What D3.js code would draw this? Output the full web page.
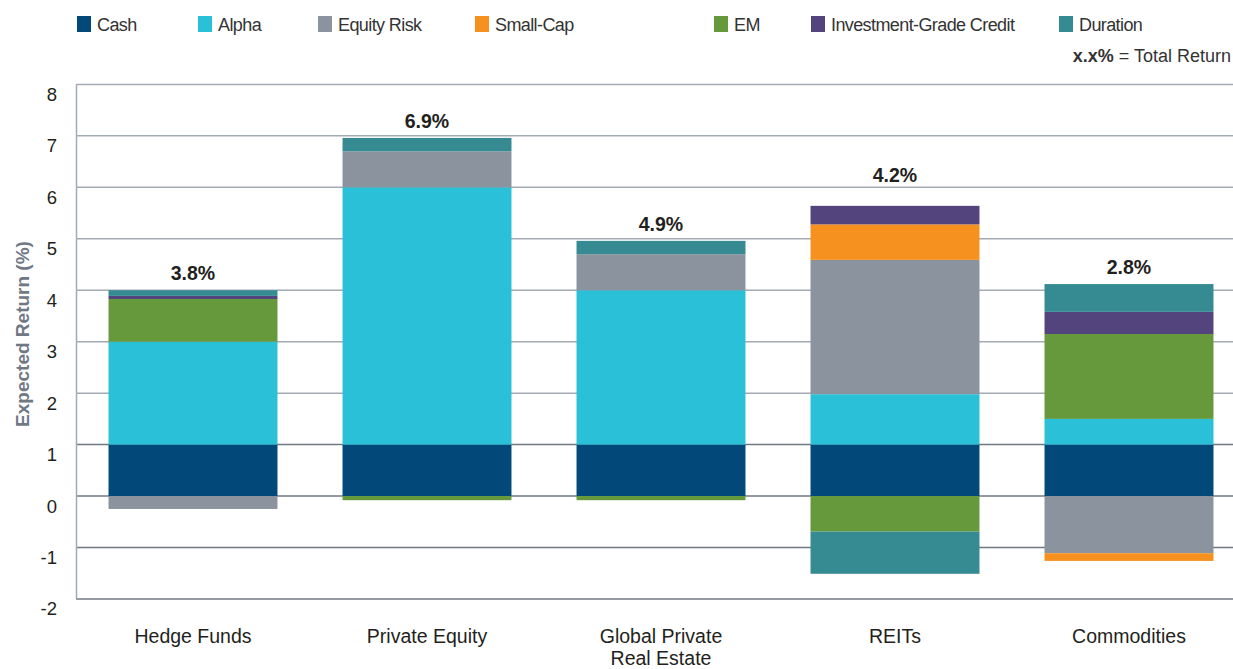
<!DOCTYPE html>
<html>
<head>
<meta charset="utf-8">
<script src="https://cdn.jsdelivr.net/npm/d3@7"></script>
<style>
  body { margin: 0; background: #fff; }
  svg { font-family: "Liberation Sans", Arial, Helvetica, sans-serif; }
</style>
</head>
<body>
<svg id="chart" width="1233" height="669"></svg>
<script>
const categories = ['Hedge Funds', 'Private Equity', 'Global Private\nReal Estate', 'REITs', 'Commodities']
const seriesNames = ['Cash', 'Alpha', 'Equity Risk', 'Small-Cap', 'EM', 'Investment-Grade Credit', 'Duration']
const seriesColors = ['#02497a', '#29c0d8', '#8a939e', '#f6911f', '#65993b', '#53447e', '#368a92']

// one row per series, one value per category
const cash = [1.0, 1.0, 1.0, 1.0, 1.0]
const alpha = [2.0, 5.0, 3.0, 0.98, 0.5]
const equityRisk = [-0.25, 0.7, 0.7, 2.61, -1.11]
const smallCap = [0, 0, 0, 0.69, -0.15]
const em = [0.83, -0.08, -0.08, -0.69, 1.65]
const igCredit = [0.06, 0, 0, 0.36, 0.43]
const duration = [0.11, 0.26, 0.26, -0.82, 0.54]
const totals = ['3.8%', '6.9%', '4.9%', '4.2%', '2.8%']
const yTicks = [-2, -1, 0, 1, 2, 3, 4, 5, 6, 7, 8]

const seriesValues = [cash, alpha, equityRisk, smallCap, em, igCredit, duration]

const svg = d3.select('#chart')
const textColor = '#231f20'

const x = d3.scaleBand()
  .domain(categories)
  .range([76, 1246])
  .paddingInner(0.278)
  .paddingOuter(0.139)

const y = d3.scaleLinear()
  .domain([-2, 8])
  .range([599, 84.4])

// gridlines
svg.append('g')
  .selectAll('line')
  .data(yTicks)
  .join('line')
    .attr('x1', 76)
    .attr('x2', 1233)
    .attr('y1', d => y(d))
    .attr('y2', d => y(d))
    .attr('stroke', d => d <= 1 ? '#6f7885' : '#a3aab3')
    .attr('stroke-width', 1.5)

// left axis line
svg.append('line')
  .attr('x1', 76.5).attr('x2', 76.5)
  .attr('y1', y(8)).attr('y2', y(-2))
  .attr('stroke', '#a3aab3')
  .attr('stroke-width', 1.5)

// y axis tick labels (sit a little below their gridline, plain hyphen for minus)
const yAxis = d3.axisLeft(y).tickValues(yTicks).tickFormat(d => String(d)).tickSize(0).tickPadding(19)
const yAxisG = svg.append('g')
  .attr('transform', 'translate(76,0)')
  .call(yAxis)
yAxisG.select('.domain').remove()
yAxisG.selectAll('text')
  .attr('font-size', 18.5)
  .attr('fill', textColor)
  .attr('dy', '0.32em')
  .attr('transform', 'translate(0,10)')
  .style('font-family', '"Liberation Sans", Arial, sans-serif')

svg.append('text')
  .attr('transform', `translate(29,${334}) rotate(-90)`)
  .attr('text-anchor', 'middle')
  .attr('font-size', 19)
  .attr('font-weight', 'bold')
  .attr('fill', '#6f7885')
  .text('Expected Return (%)')

// stacked segments: positives stack up from 0, negatives stack down from 0
const segments = []
categories.forEach((cat, ci) => {
  let pos = 0
  let neg = 0
  seriesValues.forEach((vals, si) => {
    const v = vals[ci]
    if (!v) return
    if (v > 0) {
      segments.push({ cat, si, y0: pos, y1: pos + v })
      pos += v
    } else {
      segments.push({ cat, si, y0: neg + v, y1: neg })
      neg += v
    }
  })
})

svg.append('g')
  .selectAll('rect')
  .data(segments)
  .join('rect')
    .attr('x', d => x(d.cat))
    .attr('width', x.bandwidth())
    .attr('y', d => y(d.y1))
    .attr('height', d => y(d.y0) - y(d.y1))
    .attr('fill', d => seriesColors[d.si])

// total labels above each positive stack
const labelNudge = { 'REITs': 14 }
categories.forEach((cat, ci) => {
  const top = d3.sum(seriesValues, vals => Math.max(0, vals[ci]))
  svg.append('text')
    .attr('x', x(cat) + x.bandwidth() / 2)
    .attr('y', y(top) - 10 - (labelNudge[cat] || 0))
    .attr('text-anchor', 'middle')
    .attr('font-size', 19.5)
    .attr('font-weight', 'bold')
    .attr('fill', textColor)
    .text(totals[ci])
})

// category labels
categories.forEach(cat => {
  const t = svg.append('text')
    .attr('x', x(cat) + x.bandwidth() / 2)
    .attr('y', 643)
    .attr('text-anchor', 'middle')
    .attr('font-size', 19.5)
    .attr('fill', textColor)
  cat.split('\n').forEach((line, i) => {
    t.append('tspan')
      .attr('x', x(cat) + x.bandwidth() / 2)
      .attr('dy', i === 0 ? 0 : 21.5)
      .text(line)
  })
})

// legend
const legendX = [77, 198, 318, 475, 714, 811, 1059]
const legend = svg.append('g')
  .selectAll('g')
  .data(seriesNames)
  .join('g')
    .attr('transform', (d, i) => `translate(${legendX[i]},16)`)
legend.append('rect')
  .attr('width', 14)
  .attr('height', 16)
  .attr('fill', (d, i) => seriesColors[i])
legend.append('text')
  .attr('x', 20)
  .attr('y', 14.5)
  .attr('font-size', 18)
  .attr('letter-spacing', -0.6)
  .attr('fill', '#333')
  .text(d => d)

const note = svg.append('text')
  .attr('x', 1231)
  .attr('y', 62)
  .attr('text-anchor', 'end')
  .attr('font-size', 18)
  .attr('fill', '#333')
note.append('tspan').attr('font-weight', 'bold').text('x.x%')
note.append('tspan').text(' = Total Return')
</script>
</body>
</html>
